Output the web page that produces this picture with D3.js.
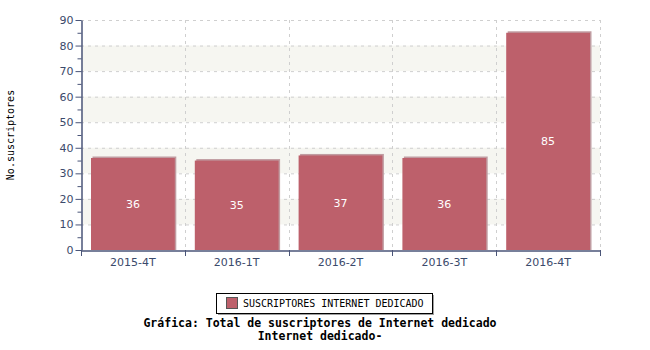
<!DOCTYPE html>
<html><head><meta charset="utf-8">
<script src="https://cdn.jsdelivr.net/npm/d3@7"></script>
<style>body{margin:0;background:#fff}svg{display:block}</style>
</head><body>
<script>
const categories = ["2015-4T","2016-1T","2016-2T","2016-3T","2016-4T"];
const values = [36, 35, 37, 36, 85];
const yTicks = [0,10,20,30,40,50,60,70,80,90];
const seriesName = "SUSCRIPTORES INTERNET DEDICADO";
const yTitle = "No.suscriptores";
const titleLines = ["Gráfica: Total de suscriptores de Internet dedicado", "Internet dedicado-"];

const W = 650, H = 350;
const m = {l:81, r:50, t:20, b:100};
const svg = d3.select("body").append("svg").attr("width", W).attr("height", H);
const x = d3.scaleBand().domain(categories).range([m.l, W - m.r]).paddingInner(0).paddingOuter(0);
const y = d3.scaleLinear().domain([0, 90]).range([H - m.b, m.t]);
const axisCol = "#4a5578", txtCol = "#3b4a6b";

// bands
const g = svg.append("g");
for (let i = 0; i < yTicks.length - 1; i++) {
  if (i % 2 === 1) {
    g.append("rect").attr("x", m.l).attr("width", W - m.r - m.l)
      .attr("y", y(yTicks[i+1])).attr("height", y(yTicks[i]) - y(yTicks[i+1]))
      .attr("fill", "#f6f6f1");
  }
}
// grid
yTicks.slice(1).forEach(t => {
  g.append("line").attr("x1", m.l).attr("x2", W - m.r).attr("y1", y(t) + 0.5).attr("y2", y(t) + 0.5)
    .attr("stroke", "#cfcfcf").attr("stroke-dasharray", "3,4");
});
categories.forEach((c, i) => {
  const xx = Math.round(x(c) + x.bandwidth()) + 0.5;
  g.append("line").attr("x1", xx).attr("x2", xx).attr("y1", m.t).attr("y2", H - m.b)
    .attr("stroke", "#cfcfcf").attr("stroke-dasharray", "3,4");
});

// bars
const pad = 10;
const bars = svg.append("g");
categories.forEach((c, i) => {
  const bx = x(c) + pad, bw = x.bandwidth() - 2 * pad;
  bars.append("rect").attr("x", bx + 1.5).attr("y", y(values[i]) - 1.5).attr("width", bw)
    .attr("height", y(0) - y(values[i]) + 1.5).attr("fill", "#c09ca1");
  bars.append("rect").attr("x", bx).attr("y", y(values[i])).attr("width", bw)
    .attr("height", y(0) - y(values[i])).attr("fill", "#bd606b");
  bars.append("text").attr("x", bx + bw / 2).attr("y", (y(values[i]) + y(0)) / 2 + 4)
    .attr("text-anchor", "middle").attr("fill", "#fff")
    .style("font", "11px 'DejaVu Sans'").text(values[i]);
});

// y axis
const ya = svg.append("g").attr("transform", `translate(${m.l + 0.5},0)`)
  .call(d3.axisLeft(y).tickValues(yTicks).tickSize(6).tickSizeOuter(0).tickPadding(2));
ya.select(".domain").attr("stroke", axisCol).attr("stroke-width", 1.5);
ya.selectAll(".tick line").attr("stroke", axisCol);
ya.selectAll(".tick text").attr("fill", txtCol).style("font", "11px 'DejaVu Sans'");
const ym = svg.append("g").attr("transform", `translate(${m.l + 0.5},0)`)
  .call(d3.axisLeft(y).tickValues(d3.range(5, 90, 10)).tickSize(4).tickFormat(""));
ym.select(".domain").remove();
ym.selectAll(".tick line").attr("stroke", axisCol);

// x axis
const xa = svg.append("g").attr("transform", `translate(0,${H - m.b + 0.5})`)
  .call(d3.axisBottom(x).tickSize(0).tickPadding(8));
xa.select(".domain").attr("stroke", axisCol).attr("stroke-width", 1.5);
xa.selectAll(".tick text").attr("fill", txtCol).style("font", "11px 'DejaVu Sans'");
const bounds = [x(categories[0])].concat(categories.map(c => x(c) + x.bandwidth()));
bounds.forEach(b => {
  svg.append("line").attr("x1", Math.round(b) + 0.5).attr("x2", Math.round(b) + 0.5)
    .attr("y1", H - m.b).attr("y2", H - m.b + 6).attr("stroke", axisCol);
});

// y title
svg.append("text").attr("transform", `translate(14,${(m.t + H - m.b) / 2}) rotate(-90)`)
  .attr("text-anchor", "middle").attr("fill", "#000")
  .style("font", "10px 'DejaVu Sans Mono'").text(yTitle);

// legend
const lx = 216, ly = 293, lw = 216, lh = 20;
svg.append("rect").attr("x", lx + 2).attr("y", ly + 2).attr("width", lw).attr("height", lh).attr("fill", "#a0a0a0");
svg.append("rect").attr("x", lx + 0.5).attr("y", ly + 0.5).attr("width", lw).attr("height", lh)
  .attr("fill", "#fff").attr("stroke", "#000");
svg.append("rect").attr("x", lx + 10.5).attr("y", ly + 4.5).attr("width", 11).attr("height", 11)
  .attr("fill", "#bd606b").attr("stroke", "#555");
svg.append("text").attr("x", lx + 27).attr("y", ly + 14).attr("fill", "#000")
  .style("font", "10px 'DejaVu Sans Mono'").text(seriesName);

// title
titleLines.forEach((t, i) => {
  svg.append("text").attr("x", 320).attr("y", 327 + i * 13).attr("text-anchor", "middle")
    .attr("fill", "#000").style("font", "bold 11.5px 'DejaVu Sans Mono'").text(t);
});
</script>
</body></html>
